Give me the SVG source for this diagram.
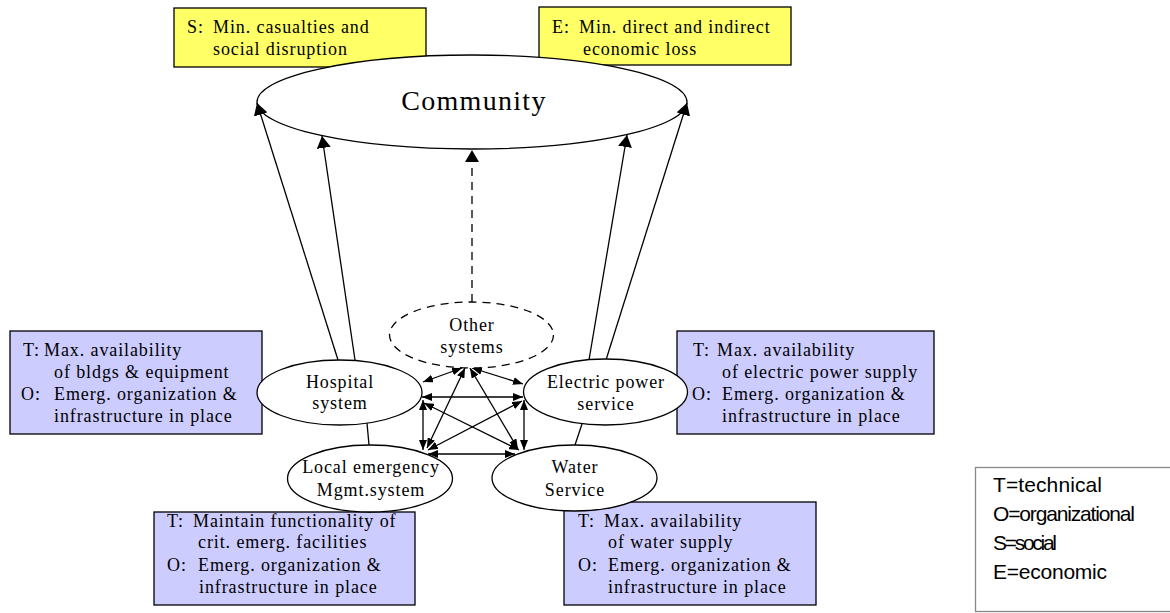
<svg xmlns="http://www.w3.org/2000/svg" width="1170" height="613" viewBox="0 0 1170 613">
<style>
.box{stroke:#000;stroke-width:1.3}
.y{fill:#FFFF66}
.b{fill:#CCCCFF}
.el{fill:#fff;stroke:#000;stroke-width:1.3}
.t{font-family:"Liberation Serif","Times New Roman",serif;font-size:18px;letter-spacing:0.9px;fill:#000}
.c{text-anchor:middle}
.ln{stroke:#000;stroke-width:1.3;fill:none}
.lg{font-family:"Liberation Sans",Arial,sans-serif;font-size:21px;fill:#000}
</style>
<defs>
<marker id="big" markerUnits="userSpaceOnUse" markerWidth="13" markerHeight="14" refX="12" refY="7" orient="auto">
<path d="M0,0 L12,7 L0,14 z" fill="#000"/>
</marker>
<marker id="sm" markerUnits="userSpaceOnUse" markerWidth="11" markerHeight="8" refX="10" refY="4" orient="auto-start-reverse">
<path d="M0,0 L10,4 L0,8 z" fill="#000"/>
</marker>
</defs>

<g id="goal-social">
<rect class="box y" x="174" y="8" width="252" height="59"/>
<text class="t" x="187" y="33">S:</text>
<text class="t" x="213" y="33">Min. casualties and</text>
<text class="t" x="213" y="55">social disruption</text>
</g>
<g id="goal-economic">
<rect class="box y" x="539" y="7" width="252" height="58"/>
<text class="t" x="552" y="33">E:</text>
<text class="t" x="579" y="33">Min. direct and indirect</text>
<text class="t" x="583" y="55">economic loss</text>
</g>

<g id="community">
<ellipse class="el" cx="472" cy="102" rx="215" ry="47"/>
<text class="t c" x="474" y="110" style="font-size:28px;letter-spacing:1.3px">Community</text>
</g>

<g id="box-hospital">
<rect class="box b" x="10" y="331" width="252" height="103"/>
<text class="t" x="23" y="356">T:</text>
<text class="t" x="44" y="356">Max. availability</text>
<text class="t" x="54" y="378">of bldgs &amp; equipment</text>
<text class="t" x="21" y="400">O:</text>
<text class="t" x="54" y="400">Emerg. organization &amp;</text>
<text class="t" x="54" y="422">infrastructure in place</text>
</g>
<g id="box-electric">
<rect class="box b" x="677" y="331" width="257" height="103"/>
<text class="t" x="693" y="356">T:</text>
<text class="t" x="717" y="356">Max. availability</text>
<text class="t" x="722" y="378">of electric power supply</text>
<text class="t" x="692" y="400">O:</text>
<text class="t" x="722" y="400">Emerg. organization &amp;</text>
<text class="t" x="722" y="422">infrastructure in place</text>
</g>
<g id="box-local">
<rect class="box b" x="154" y="512" width="261" height="93"/>
<text class="t" x="167" y="527">T:</text>
<text class="t" x="193" y="527">Maintain functionality of</text>
<text class="t" x="198" y="548">crit. emerg. facilities</text>
<text class="t" x="167" y="571">O:</text>
<text class="t" x="198" y="571">Emerg. organization &amp;</text>
<text class="t" x="199" y="593">infrastructure in place</text>
</g>
<g id="box-water">
<rect class="box b" x="564" y="502" width="252" height="103"/>
<text class="t" x="578" y="527">T:</text>
<text class="t" x="604" y="527">Max. availability</text>
<text class="t" x="608" y="548">of water supply</text>
<text class="t" x="578" y="571">O:</text>
<text class="t" x="608" y="571">Emerg. organization &amp;</text>
<text class="t" x="608" y="593">infrastructure in place</text>
</g>

<g id="connectors">
<line class="ln" x1="338" y1="360" x2="257" y2="103" marker-end="url(#big)"/>
<line class="ln" x1="355" y1="360" x2="322" y2="136" marker-end="url(#big)"/>
<line class="ln" x1="589" y1="360" x2="627" y2="135" marker-end="url(#big)"/>
<line class="ln" x1="606" y1="360" x2="687" y2="103" marker-end="url(#big)"/>
<line class="ln" x1="472" y1="302" x2="472" y2="150" stroke-dasharray="8,6" marker-end="url(#big)"/>
<line class="ln" x1="367" y1="423" x2="369" y2="445"/>
<line class="ln" x1="582" y1="424" x2="575" y2="445"/>
<line class="ln" x1="423" y1="382" x2="462" y2="368" marker-start="url(#sm)" marker-end="url(#sm)"/>
<line class="ln" x1="472" y1="368" x2="523" y2="384" marker-start="url(#sm)" marker-end="url(#sm)"/>
<line class="ln" x1="422" y1="397" x2="523" y2="397" marker-start="url(#sm)" marker-end="url(#sm)"/>
<line class="ln" x1="423" y1="400" x2="423" y2="450" marker-start="url(#sm)" marker-end="url(#sm)"/>
<line class="ln" x1="524" y1="400" x2="524" y2="450" marker-start="url(#sm)" marker-end="url(#sm)"/>
<line class="ln" x1="428" y1="454" x2="515" y2="454" marker-start="url(#sm)" marker-end="url(#sm)"/>
<line class="ln" x1="424" y1="403" x2="519" y2="450" marker-start="url(#sm)" marker-end="url(#sm)"/>
<line class="ln" x1="522" y1="401" x2="428" y2="450" marker-start="url(#sm)" marker-end="url(#sm)"/>
<line class="ln" x1="465" y1="368" x2="427" y2="448" marker-start="url(#sm)" marker-end="url(#sm)"/>
<line class="ln" x1="470" y1="368" x2="518" y2="449" marker-start="url(#sm)" marker-end="url(#sm)"/>
</g>

<g id="other">
<ellipse class="el" cx="471.5" cy="335" rx="82" ry="33" stroke-dasharray="8,6"/>
<text class="t c" x="472" y="331">Other</text>
<text class="t c" x="472" y="353">systems</text>
</g>
<g id="hospital">
<ellipse class="el" cx="339.5" cy="392.5" rx="82.5" ry="32.5"/>
<text class="t c" x="340" y="388">Hospital</text>
<text class="t c" x="340" y="409">system</text>
</g>
<g id="electric">
<ellipse class="el" cx="605.5" cy="392" rx="82" ry="33"/>
<text class="t c" x="606" y="388">Electric power</text>
<text class="t c" x="606" y="410">service</text>
</g>
<g id="local">
<ellipse class="el" cx="370" cy="478.5" rx="82.5" ry="33.5"/>
<text class="t c" x="371" y="473">Local emergency</text>
<text class="t c" x="371" y="496">Mgmt.system</text>
</g>
<g id="water">
<ellipse class="el" cx="574.5" cy="478" rx="82.5" ry="33"/>
<text class="t c" x="575" y="473">Water</text>
<text class="t c" x="575" y="496">Service</text>
</g>

<g id="legend">
<rect x="975.5" y="467.5" width="200" height="144" fill="#fff" stroke="#888" stroke-width="1.3"/>
<text class="lg" x="993" y="492" textLength="109" lengthAdjust="spacing">T=technical</text>
<text class="lg" x="993" y="521" textLength="142" lengthAdjust="spacing">O=organizational</text>
<text class="lg" x="993" y="550" textLength="64" lengthAdjust="spacing">S=social</text>
<text class="lg" x="993" y="579" textLength="114" lengthAdjust="spacing">E=economic</text>
</g>
</svg>
